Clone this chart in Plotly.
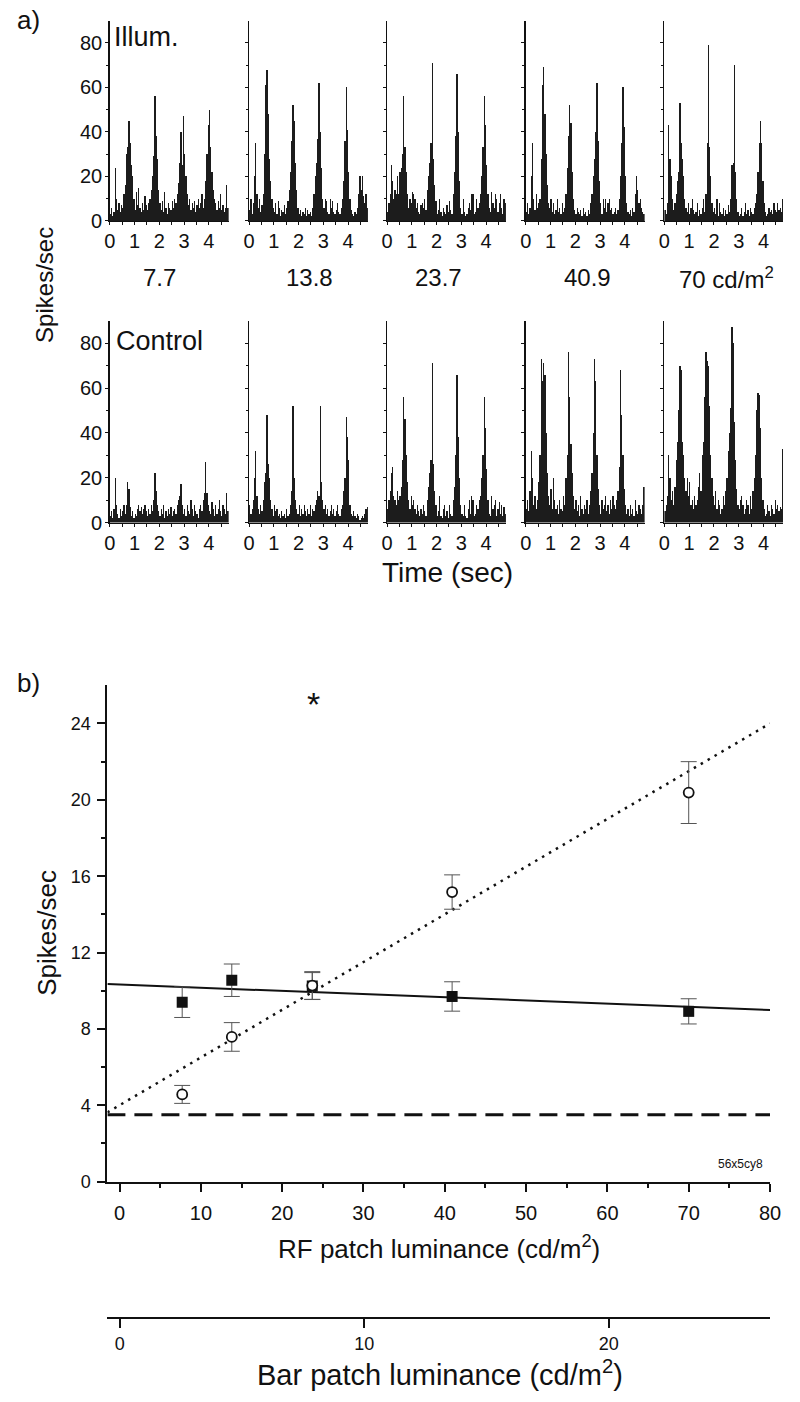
import plotly.graph_objects as go

W, H = 800, 1402


def px(x):
    return x / W


def py(y):
    return 1 - y / H


# ---------------- data : panel a (PSTHs, 0.05 s bins, 0 - 4.8 s) ----------------
bin_width = 0.05
n_bins = 96
bin_times = [round(bin_width * (i + 0.5), 3) for i in range(n_bins)]
time_ticks = [0, 1, 2, 3, 4]
psth_y_ticks = [0, 20, 40, 60, 80]

luminance_labels = ["7.7", "13.8", "23.7", "40.9", "70 cd/m<sup>2</sup>"]

illum_7_7 = [3, 6, 2, 4, 24, 10, 5, 8, 4, 7, 6, 12,
             16, 30, 33, 45, 35, 25, 20, 10, 5, 13, 7, 15,
             6, 4, 8, 5, 11, 7, 5, 8, 10, 14, 20, 29,
             56, 38, 28, 14, 8, 5, 9, 4, 13, 6, 3, 8,
             6, 5, 9, 6, 10, 8, 12, 17, 26, 40, 25, 47,
             30, 20, 12, 7, 10, 5, 8, 6, 9, 4, 7, 10,
             6, 8, 12, 6, 10, 18, 30, 43, 50, 33, 22, 14,
             10, 8, 5, 9, 6, 12, 5, 7, 4, 6, 16, 6]
illum_13_8 = [5, 10, 3, 8, 20, 35, 12, 6, 10, 4, 7, 12,
              30, 61, 68, 48, 28, 18, 10, 6, 4, 8, 3, 9,
              6, 2, 5, 4, 7, 3, 6, 9, 14, 22, 36, 52,
              45, 26, 14, 6, 3, 5, 2, 4, 3, 6, 2, 5,
              3, 4, 2, 6, 12, 20, 26, 37, 62, 40, 24, 10,
              6, 10, 9, 4, 3, 10, 6, 9, 4, 3, 5, 8,
              4, 3, 6, 10, 18, 36, 60, 41, 22, 10, 5, 3,
              2, 4, 3, 6, 12, 20, 14, 20, 11, 8, 12, 6]
illum_23_7 = [4, 8, 12, 25, 18, 10, 14, 12, 20, 12, 22, 24,
              30, 56, 33, 22, 12, 6, 10, 8, 13, 12, 10, 6,
              8, 4, 3, 7, 8, 6, 10, 5, 14, 20, 26, 35,
              71, 28, 16, 9, 3, 5, 10, 4, 2, 6, 4, 3,
              7, 4, 9, 5, 3, 12, 22, 38, 66, 40, 18, 6,
              3, 10, 4, 2, 3, 6, 8, 5, 12, 12, 3, 4,
              10, 6, 8, 12, 20, 33, 56, 43, 25, 12, 6, 4,
              13, 8, 6, 12, 10, 4, 8, 12, 6, 3, 10, 8]
illum_40_9 = [4, 8, 3, 6, 20, 35, 10, 5, 12, 6, 8, 10,
              28, 61, 69, 48, 30, 16, 8, 6, 10, 4, 8, 3,
              5, 10, 4, 6, 3, 8, 4, 6, 12, 24, 38, 52,
              44, 22, 10, 5, 3, 6, 4, 3, 5, 2, 6, 3,
              4, 2, 5, 3, 8, 12, 20, 28, 40, 62, 36, 18,
              8, 3, 10, 6, 10, 4, 8, 10, 5, 6, 3, 4,
              6, 3, 5, 10, 20, 35, 60, 42, 20, 8, 4, 3,
              5, 2, 6, 4, 12, 20, 14, 8, 10, 6, 4, 3]
illum_70 = [5, 3, 8, 43, 28, 20, 10, 5, 8, 12, 18, 22,
            53, 35, 28, 20, 10, 6, 4, 8, 3, 6, 10, 5,
            3, 4, 8, 2, 5, 3, 6, 10, 4, 12, 35, 79,
            33, 20, 8, 4, 6, 3, 10, 2, 8, 4, 3, 6,
            2, 5, 3, 7, 4, 10, 25, 26, 70, 22, 10, 4,
            2, 3, 6, 2, 4, 8, 3, 5, 2, 6, 4, 3,
            6, 8, 12, 22, 35, 45, 35, 18, 8, 4, 2, 3,
            6, 4, 5, 3, 8, 5, 4, 8, 5, 6, 4, 10]

control_7_7 = [3, 5, 2, 6, 20, 8, 4, 2, 6, 3, 5, 8,
               4, 8, 18, 15, 7, 3, 5, 2, 4, 3, 6, 8,
               5, 7, 4, 6, 8, 5, 3, 6, 4, 8, 5, 10,
               22, 14, 8, 5, 3, 6, 4, 8, 2, 5, 3, 6,
               4, 7, 3, 5, 6, 4, 8, 10, 12, 17, 8, 4,
               6, 3, 8, 5, 4, 10, 6, 3, 8, 5, 4, 2,
               6, 8, 5, 10, 13, 27, 13, 8, 5, 4, 9, 6,
               3, 8, 4, 6, 10, 5, 3, 8, 6, 4, 13, 5]
control_13_8 = [8, 4, 6, 10, 20, 32, 12, 6, 4, 8, 5, 10,
                18, 22, 48, 26, 20, 10, 6, 3, 8, 5, 6, 3,
                4, 2, 5, 3, 4, 2, 6, 3, 4, 8, 14, 52,
                20, 10, 6, 4, 8, 3, 6, 4, 8, 5, 3, 6,
                4, 8, 3, 6, 5, 8, 10, 14, 12, 52, 18, 10,
                6, 8, 4, 6, 3, 5, 8, 4, 6, 3, 5, 8,
                4, 3, 6, 8, 14, 20, 47, 38, 28, 8, 4, 3,
                5, 3, 2, 4, 3, 1, 2, 3, 2, 4, 6, 7]
control_23_7 = [6, 10, 14, 22, 25, 12, 10, 8, 14, 10, 12, 16,
                28, 56, 46, 30, 18, 10, 6, 12, 8, 10, 6, 4,
                8, 5, 3, 6, 4, 8, 5, 3, 10, 16, 22, 28,
                71, 26, 14, 8, 3, 5, 12, 3, 2, 6, 8, 3,
                5, 2, 8, 4, 3, 10, 16, 30, 66, 38, 20, 8,
                4, 3, 8, 3, 2, 6, 10, 4, 12, 10, 3, 4,
                8, 6, 10, 12, 20, 30, 56, 42, 24, 10, 4, 3,
                12, 6, 8, 10, 3, 6, 9, 4, 8, 3, 7, 4]
control_40_9 = [6, 10, 5, 14, 32, 20, 8, 12, 6, 10, 18, 30,
                73, 63, 71, 66, 40, 22, 12, 8, 15, 6, 20, 10,
                6, 8, 4, 10, 6, 5, 12, 8, 20, 30, 76, 56,
                35, 22, 12, 6, 10, 5, 8, 3, 12, 6, 4, 8,
                6, 10, 4, 8, 14, 22, 40, 73, 63, 30, 15, 8,
                4, 10, 6, 8, 12, 5, 8, 4, 10, 6, 12, 8,
                6, 10, 14, 25, 68, 48, 30, 15, 8, 4, 6, 3,
                8, 4, 6, 3, 10, 5, 4, 8, 6, 4, 8, 16]
control_70 = [5, 8, 12, 30, 20, 10, 14, 8, 16, 28, 36, 50,
              70, 68, 36, 30, 20, 14, 20, 12, 18, 8, 10, 6,
              12, 8, 10, 16, 22, 14, 30, 36, 56, 76, 72, 70,
              52, 30, 20, 12, 8, 14, 6, 10, 8, 4, 6, 12,
              8, 14, 20, 32, 40, 51, 87, 80, 45, 28, 15, 8,
              6, 10, 12, 8, 4, 6, 10, 8, 4, 12, 6, 14,
              20, 30, 50, 58, 57, 42, 20, 10, 6, 3, 4, 8,
              5, 3, 8, 6, 4, 10, 6, 8, 5, 7, 6, 33]

illum_rows = [illum_7_7, illum_13_8, illum_23_7, illum_40_9, illum_70]
control_rows = [control_7_7, control_13_8, control_23_7, control_40_9, control_70]

# ---------------- data : panel b ----------------
rf_luminance = [7.7, 13.8, 23.7, 40.9, 70]
control_mean = [9.4, 10.55, 10.25, 9.7, 8.92]
control_sem = [0.8, 0.85, 0.7, 0.77, 0.66]
illum_mean = [4.57, 7.58, 10.27, 15.17, 20.38]
illum_sem = [0.47, 0.75, 0.73, 0.9, 1.62]

fit_x = [-1.5, 80]
control_fit_y = [10.35, 8.99]
illum_fit_y = [3.63, 24.0]
baseline_y = [3.5, 3.5]

rf_ticks = [0, 10, 20, 30, 40, 50, 60, 70, 80]
rate_ticks = [0, 4, 8, 12, 16, 20, 24]
bar_ticks = [0, 10, 20]

# ---------------- styling ----------------
FONT = "Liberation Sans, Arial, sans-serif"
INK = "#111111"
BAR_INK = "#1c1c1c"

fig = go.Figure()
layout = dict(
    width=W, height=H, autosize=False,
    margin=dict(l=0, r=0, t=0, b=0, pad=0),
    paper_bgcolor="white", plot_bgcolor="white",
    showlegend=False, bargap=0,
    font=dict(family=FONT, color=INK),
)

col_lefts = [106, 248.3, 389.3, 531, 672.7]
col_width = 121.5
rows = [(illum_rows, 222.7, 20.7), (control_rows, 526.7, 323.3)]

ax = 0
for r, (data_rows, y0, y1) in enumerate(rows):
    for c in range(5):
        ax += 1
        xn = "x" if ax == 1 else f"x{ax}"
        yn = "y" if ax == 1 else f"y{ax}"
        fig.add_trace(go.Bar(
            x=bin_times, y=data_rows[c], width=bin_width,
            marker=dict(color=BAR_INK, line=dict(width=0)),
            xaxis=xn, yaxis=yn, hoverinfo="skip",
        ))
        xkey = "xaxis" if ax == 1 else f"xaxis{ax}"
        ykey = "yaxis" if ax == 1 else f"yaxis{ax}"
        layout[xkey] = dict(
            domain=[px(col_lefts[c]), min(1.0, px(col_lefts[c] + col_width))],
            anchor=yn, range=[0, 4.8],
            showline=True, linecolor=INK, linewidth=1,
            showgrid=False, zeroline=False,
            ticks="outside", ticklen=3, tickwidth=1, tickcolor=INK,
            tickvals=time_ticks, ticktext=[str(t) for t in time_ticks],
            minor=dict(tickvals=[0.5, 1.5, 2.5, 3.5, 4.5], ticks="outside",
                       ticklen=3, tickcolor=INK, showgrid=False),
            tickfont=dict(size=20, family=FONT, color=INK),
            ticklabelstandoff=-1,
            fixedrange=True,
        )
        layout[ykey] = dict(
            domain=[py(y0), py(y1)], anchor=xn, range=[0, 90],
            showline=True, linecolor=INK, linewidth=1.5,
            showgrid=False, zeroline=False,
            ticks="outside", ticklen=3, tickwidth=1, tickcolor=INK,
            tickvals=psth_y_ticks, ticktext=[str(t) for t in psth_y_ticks],
            showticklabels=(c == 0),
            minor=dict(tickvals=[10, 30, 50, 70], ticks="outside", ticklen=2,
                       tickcolor=INK, showgrid=False),
            tickfont=dict(size=20, family=FONT, color=INK),
            ticklabelstandoff=-1,
            fixedrange=True,
        )

# ---------------- panel b ----------------
PB_X, PB_Y = "x11", "y11"
fig.add_trace(go.Scatter(
    x=fit_x, y=baseline_y, mode="lines",
    line=dict(color=INK, width=3, dash="18px,9px"),
    xaxis=PB_X, yaxis=PB_Y, hoverinfo="skip",
))
fig.add_trace(go.Scatter(
    x=fit_x, y=illum_fit_y, mode="lines",
    line=dict(color=INK, width=2.5, dash="2.5px,5.5px"),
    xaxis=PB_X, yaxis=PB_Y, hoverinfo="skip",
))
fig.add_trace(go.Scatter(
    x=fit_x, y=control_fit_y, mode="lines",
    line=dict(color=INK, width=2),
    xaxis=PB_X, yaxis=PB_Y, hoverinfo="skip",
))
fig.add_trace(go.Scatter(
    x=rf_luminance, y=control_mean, mode="markers",
    marker=dict(symbol="square", size=11, color=INK, line=dict(width=0)),
    error_y=dict(type="data", array=control_sem, color="#555555", thickness=1, width=8),
    xaxis=PB_X, yaxis=PB_Y, hoverinfo="skip",
))
fig.add_trace(go.Scatter(
    x=rf_luminance, y=illum_mean, mode="markers",
    marker=dict(symbol="circle", size=10, color="white", line=dict(width=1.8, color=INK)),
    error_y=dict(type="data", array=illum_sem, color="#555555", thickness=1, width=8),
    xaxis=PB_X, yaxis=PB_Y, hoverinfo="skip",
))

layout["xaxis11"] = dict(
    domain=[px(103.6), px(780.6)], anchor=PB_Y, range=[-1.5, 80],
    showline=True, linecolor=INK, linewidth=2, showgrid=False, zeroline=False,
    ticks="outside", ticklen=8, tickwidth=2, tickcolor=INK,
    tickvals=rf_ticks, ticktext=[str(t) for t in rf_ticks],
    minor=dict(tickvals=[5, 15, 25, 35, 45, 55, 65, 75], ticks="outside",
               ticklen=4, tickwidth=2, tickcolor=INK, showgrid=False),
    tickfont=dict(size=20, family=FONT, color=INK),
    ticklabelstandoff=4,
    fixedrange=True,
)
layout["yaxis11"] = dict(
    domain=[py(1191), py(690.7)], anchor=PB_X, range=[0, 26],
    showline=True, linecolor=INK, linewidth=2, showgrid=False, zeroline=False,
    ticks="outside", ticklen=8, tickwidth=2, tickcolor=INK,
    tickvals=rate_ticks, ticktext=[str(t) for t in rate_ticks],
    minor=dict(tickvals=[2, 6, 10, 14, 18, 22], ticks="outside",
               ticklen=4, tickwidth=2, tickcolor=INK, showgrid=False),
    tickfont=dict(size=18, family=FONT, color=INK),
    ticklabelstandoff=3,
    fixedrange=True,
)

# secondary (bar patch luminance) axis
fig.add_trace(go.Scatter(
    x=bar_ticks, y=[0 for _ in bar_ticks], mode="markers",
    marker=dict(opacity=0), xaxis="x12", yaxis="y12", hoverinfo="skip",
))
layout["xaxis12"] = dict(
    domain=[px(103.6), px(780.6)], anchor="y12", range=[-0.51, 26.6],
    showline=True, linecolor=INK, linewidth=2, showgrid=False, zeroline=False,
    ticks="outside", ticklen=9, tickwidth=2, tickcolor=INK,
    tickvals=bar_ticks, ticktext=[str(t) for t in bar_ticks],
    tickfont=dict(size=18, family=FONT, color=INK),
    ticklabelstandoff=1,
    fixedrange=True,
)
layout["yaxis12"] = dict(
    domain=[py(1327.3), py(1317)], anchor="x12", range=[0, 1],
    visible=False, fixedrange=True,
)


def ann(text, x, y, size, xanchor="center", yanchor="middle", angle=0):
    return dict(text=text, x=px(x), y=py(y), xref="paper", yref="paper",
                showarrow=False, xanchor=xanchor, yanchor=yanchor, textangle=angle,
                font=dict(size=size, family=FONT, color=INK))


annotations = [
    ann("a)", 9, 20, 26, xanchor="left"),
    ann("b)", 9, 688, 26, xanchor="left"),
    ann("Illum.", 108, 37, 27, xanchor="left"),
    ann("Control", 110, 344, 27, xanchor="left"),
    ann("Spikes/sec", 40, 287, 24, angle=-90),
    ann("Time (sec)", 451, 577, 28),
    ann("Spikes/sec", 42, 940, 26, angle=-90),
    ann("RF patch luminance (cd/m<sup>2</sup>)", 442, 1257, 26),
    ann("Bar patch luminance (cd/m<sup>2</sup>)", 443, 1384, 29),
    ann("*", 314, 710, 34),
    ann("56x5cy8", 750, 1173, 12),
]
label_centers = [157, 310, 442, 594, 736]
for lbl, cx in zip(luminance_labels, label_centers):
    annotations.append(ann(lbl, cx, 280, 24))

layout["annotations"] = annotations
fig.update_layout(**layout)
fig.write_html(
    "out.html",
    config={"displayModeBar": False, "staticPlot": True},
    post_script="document.body.style.margin='0';document.body.style.padding='0';",
)
